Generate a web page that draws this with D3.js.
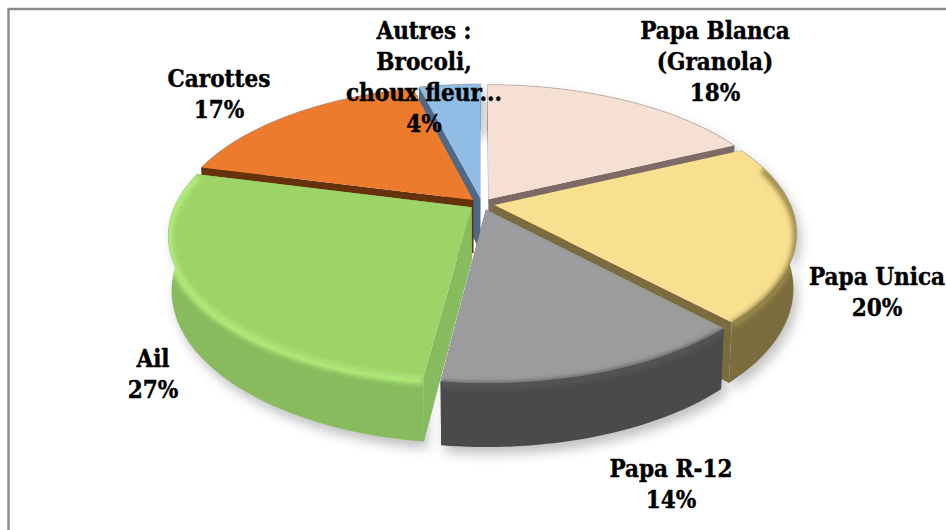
<!DOCTYPE html>
<html>
<head>
<meta charset="utf-8">
<script src="https://cdn.jsdelivr.net/npm/d3@7"></script>
<style>
html, body { margin: 0; padding: 0; background: #fff; overflow: hidden; }
text { font-family: "DejaVu Serif", serif; font-weight: bold; font-stretch: condensed; font-size: 24px; fill: #000; stroke: #000; stroke-width: 0.4px; }
</style>
</head>
<body>
<div id="chart"></div>
<script>
// values
var categories = ["Papa Blanca", "Papa Unica", "Papa R-12", "Ail", "Carottes", "Autres"];
var values = [18, 20, 14, 27, 17, 4];
var labelLines = [
  ["Papa Blanca", "(Granola)", "18%"],
  ["Papa Unica", "20%"],
  ["Papa R-12", "14%"],
  ["Ail", "27%"],
  ["Carottes", "17%"],
  ["Autres :", "Brocoli,", "choux fleur...", "4%"]
];

var topColors  = ["#f6dfd3", "#f9df90", "#9c9c9e", "#9dd468", "#ec7b2d", "#90bce6"];
var wallColors = ["#7b6a66", "#7a6c3c", "#4a4a4c", "#87bb5e", "#66320c", "#4d6a8a"];
// only the slices that face the viewer get a soft rim
var rimColors  = [null, "#9a8848", "#555557", "#b4f07c", null, null];

var width = 946,
    height = 530;

var cx = 482, cy = 204,   // where the pie axis lands
    radius = 296,
    tilt = 0.466,         // squash of the disc
    persp = 0.19,         // front is nearer than back
    persp2 = 0.01,        // bottom face is a bit further away
    depth = 54,
    explode = 0.042;

var svg = d3.select("#chart").append("svg")
    .attr("width", width)
    .attr("height", height);

var defs = svg.append("defs");
defs.append("filter").attr("id", "soft").attr("x", "-20%").attr("y", "-20%").attr("width", "140%").attr("height", "140%")
  .append("feGaussianBlur").attr("stdDeviation", 2.6);
defs.append("filter").attr("id", "shadow").attr("x", "-20%").attr("y", "-20%").attr("width", "140%").attr("height", "140%")
  .append("feGaussianBlur").attr("stdDeviation", 6);

// frame, only top and left show in the crop
svg.append("path")
    .attr("d", d3.line()([[8.5, height], [8.5, 9], [width, 9]]))
    .attr("fill", "none")
    .attr("stroke", "#8c8c8c")
    .attr("stroke-width", 2.5);

var pie = d3.pie().sort(null).value(function(d) { return d; });
var slices = pie(values);

var line = d3.line();

// a point of the disc: angle clockwise from 12 o'clock, r 0..1, z 0 top 1 bottom
function project(d, a, r, z) {
  var b = (d.startAngle + d.endAngle) / 2;
  var u = Math.sin(a) * r + Math.sin(b) * explode,
      v = -Math.cos(a) * r - Math.cos(b) * explode;
  var s = 1 / (1 - persp * v + persp2 * z);
  return [cx + radius * u * s, cy + radius * tilt * v * s + depth * z * s];
}

function arcAngles(d) {
  var n = Math.ceil((d.endAngle - d.startAngle) * 40);
  return d3.range(n + 1).map(function(i) {
    return d.startAngle + (d.endAngle - d.startAngle) * i / n;
  });
}

function arcPoints(d, r, z) {
  return arcAngles(d).map(function(a) { return project(d, a, r, z); });
}

function topPath(d) {
  return line([project(d, 0, 0, 0)].concat(arcPoints(d, 1, 0))) + "Z";
}
function outerWall(d) {
  return line(arcPoints(d, 1, 0).concat(arcPoints(d, 1, 1).reverse())) + "Z";
}
function radialWall(d, a) {
  return line([project(d, a, 0, 0), project(d, a, 1, 0), project(d, a, 1, 1), project(d, a, 0, 1)]) + "Z";
}

// back to front
var order = [5, 0, 4, 1, 3, 2];

var shadow = svg.append("g").attr("transform", "translate(4,7)").attr("filter", "url(#shadow)").attr("opacity", 0.3);
order.forEach(function(i) {
  shadow.append("path").attr("d", outerWall(slices[i])).attr("fill", "#333");
});

order.forEach(function(i) {
  var d = slices[i];
  var g = svg.append("g");

  var clip = defs.append("clipPath").attr("id", "clip" + i);
  clip.append("path").attr("d", topPath(d));
  clip.append("path").attr("d", outerWall(d));

  [d.startAngle, d.endAngle].forEach(function(a) {
    g.append("path").attr("d", radialWall(d, a)).attr("fill", wallColors[i]);
  });
  g.append("path").attr("d", outerWall(d)).attr("fill", wallColors[i]);
  g.append("path").attr("d", topPath(d)).attr("fill", topColors[i]);

  // thin grey line on the back edge
  g.append("path")
    .attr("d", line(arcPoints(d, 1, 0)))
    .attr("fill", "none")
    .attr("stroke", "#a8a29e")
    .attr("stroke-opacity", 0.6)
    .attr("stroke-width", 1);

  if (rimColors[i]) {
    var front = arcAngles(d).filter(function(a) { return Math.cos(a) < 0.3; });
    g.append("g").attr("clip-path", "url(#clip" + i + ")")
      .append("path")
        .attr("d", line(front.map(function(a) { return project(d, a, 1, 0.05); })))
        .attr("fill", "none")
        .attr("stroke", rimColors[i])
        .attr("stroke-width", 7)
        .attr("filter", "url(#soft)");
  }
});

// label baselines of the first line
var labelPos = [[715, 39], [877, 285], [671, 477], [153, 367], [219, 87], [424, 39]];

labelLines.forEach(function(lines, i) {
  var t = svg.append("text").attr("text-anchor", "middle");
  lines.forEach(function(s, k) {
    t.append("tspan")
      .attr("x", labelPos[i][0])
      .attr("y", labelPos[i][1] + k * 31)
      .text(s);
  });
});
</script>
</body>
</html>
